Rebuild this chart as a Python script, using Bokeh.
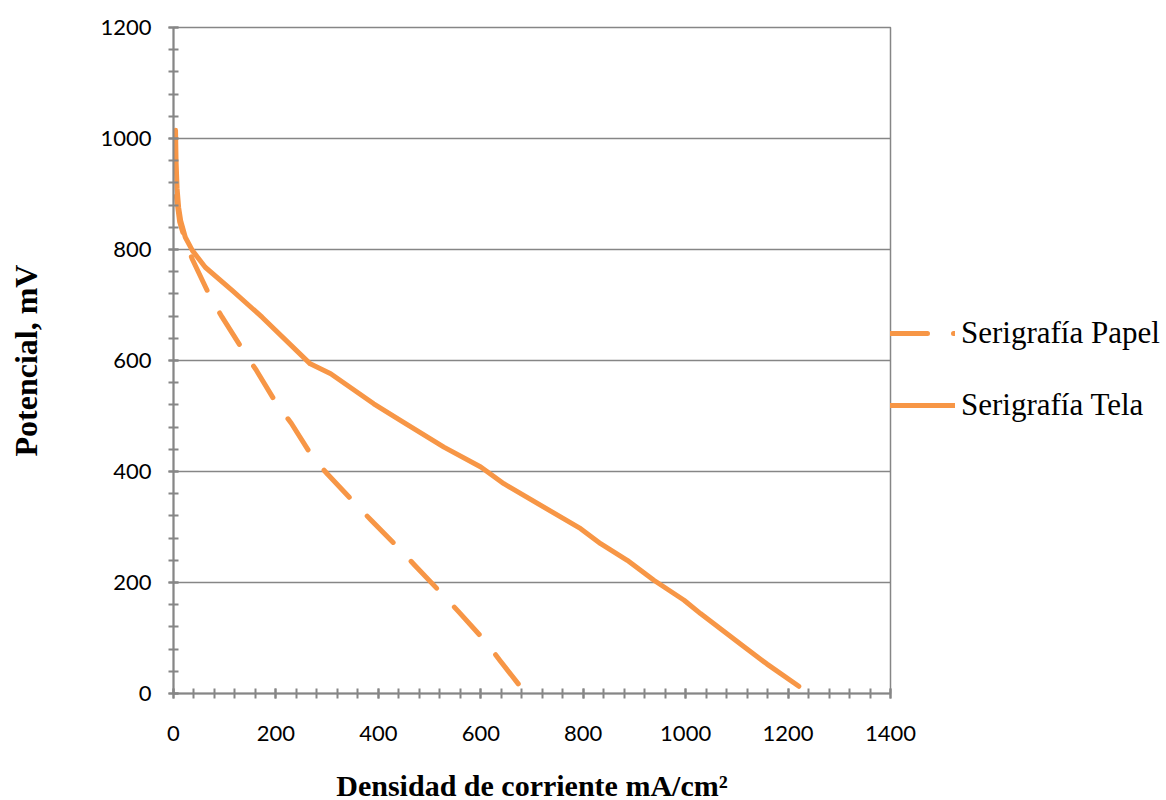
from bokeh.plotting import figure
from bokeh.models import Range1d, SingleIntervalTicker, Legend, LegendItem
from bokeh.embed import file_html
from bokeh.resources import INLINE

# Polarization curves: current density (mA/cm2) vs cell potential (mV)
papel_x = [2, 3, 5, 12, 25, 37, 72, 95, 137, 162, 202, 230, 273, 301, 357,
           386, 443, 471, 527, 557, 611, 637, 676]
papel_y = [1010, 950, 900, 850, 810, 782, 714, 678, 617, 582, 521, 487, 424,
           395, 340, 312, 259, 231, 177, 147, 92, 60, 14]

tela_x = [4, 5, 7, 10, 14, 23, 37, 62, 115, 173, 267, 307, 391, 443, 528,
          600, 645, 795, 834, 886, 938, 997, 1029, 1107, 1159, 1221]
tela_y = [1015, 960, 910, 876, 852, 822, 798, 768, 726, 678, 594, 576, 522,
          492, 444, 408, 378, 297, 270, 240, 204, 168, 144, 89, 53, 13]

series_names = ["Serigrafía Papel", "Serigrafía Tela"]
x_title = "Densidad de corriente mA/cm²"
y_title = "Potencial, mV"

ORANGE = "#F79646"
GRAY = "#868686"
SERIF = "Liberation Serif"

p = figure(frame_width=717, frame_height=666,
           x_range=Range1d(0, 1400), y_range=Range1d(0, 1200),
           output_backend="svg", toolbar_location=None,
           min_border_left=173, min_border_right=276,
           min_border_top=27, min_border_bottom=107)
p.background_fill_color = "white"
p.border_fill_color = "white"
p.outline_line_color = GRAY
p.outline_line_width = 1.5

r_papel = p.line(papel_x, papel_y, line_color=ORANGE, line_width=5,
                 line_dash="37 26", line_cap="round", line_join="round")
r_tela = p.line(tela_x, tela_y, line_color=ORANGE, line_width=5,
                line_cap="round", line_join="round")

for ax in (p.xaxis[0], p.yaxis[0]):
    ax.ticker = SingleIntervalTicker(interval=200, num_minor_ticks=5)
    ax.axis_line_color = GRAY
    ax.axis_line_width = 2
    ax.major_tick_line_color = GRAY
    ax.minor_tick_line_color = GRAY
    ax.major_tick_line_width = 2
    ax.minor_tick_line_width = 2
    ax.major_tick_in = 5
    ax.major_tick_out = 5
    ax.minor_tick_in = 5
    ax.minor_tick_out = 5
    ax.major_label_text_font = "Lato"
    ax.major_label_text_font_size = "22px"
    ax.major_label_text_color = "black"
    ax.axis_label_text_font = SERIF
    ax.axis_label_text_font_style = "bold"
    ax.axis_label_text_color = "black"

p.xaxis.axis_label = x_title
p.yaxis.axis_label = y_title
p.xaxis.axis_label_text_font_size = "30px"
p.yaxis.axis_label_text_font_size = "32px"
p.xaxis.major_label_standoff = 27
p.xaxis.axis_label_standoff = 25
p.yaxis.major_label_standoff = 17
p.yaxis.axis_label_standoff = 53

p.xgrid.visible = False
p.ygrid.grid_line_color = GRAY
p.ygrid.grid_line_width = 1.5

legend = Legend(items=[LegendItem(label=series_names[0], renderers=[r_papel]),
                       LegendItem(label=series_names[1], renderers=[r_tela])],
                location=(0, 270), orientation="vertical",
                glyph_width=65, glyph_height=36, label_height=36,
                spacing=36, padding=0, margin=0, label_standoff=6,
                border_line_alpha=0, background_fill_alpha=0,
                label_text_font=SERIF, label_text_font_size="31px",
                label_text_color="black")
p.add_layout(legend, "right")

open("out.html", "w").write(file_html(p, INLINE))
